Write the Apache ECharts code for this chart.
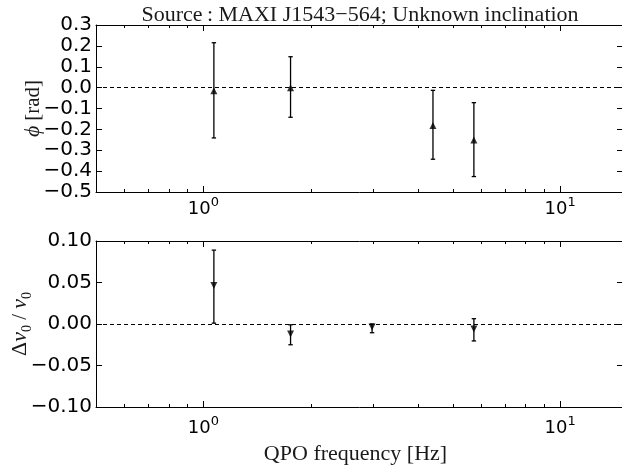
<!DOCTYPE html>
<html>
<head>
<meta charset="utf-8">
<script src="https://cdn.jsdelivr.net/npm/echarts@6/dist/echarts.min.js"></script>
<style>html,body{margin:0;padding:0;background:#fff}#c{width:622px;height:465px}</style>
</head>
<body>
<div id="c"></div>
<script>
// ---- data ----
const titleText = 'Source\u2009: MAXI J1543\u2212564; Unknown inclination';
const xName = 'QPO frequency [Hz]';
// top panel: phase lag phi [rad]
const phiFreq = [1.07, 1.755, 4.40, 5.73];
const phiVal  = [-0.015, 0.0, -0.182, -0.251];
const phiLo   = [-0.241, -0.142, -0.343, -0.426];
const phiHi   = [0.215, 0.148, -0.013, -0.072];
// bottom panel: delta nu0 / nu0
const dnFreq = [1.07, 1.755, 2.97, 5.73];
const dnVal  = [0.0463, -0.012, -0.0036, -0.006];
const dnLo   = [0.001, -0.025, -0.0105, -0.0204];
const dnHi   = [0.089, -0.001, 0.0, 0.0064];
// axis ticks
const xMajorTicks = [1, 10];
const xMinorTicks = [0.6, 0.7, 0.8, 0.9, 2, 3, 4, 5, 6, 7, 8, 9];
const xMin = 0.5, xMax = 15;
const phiMin = -0.5, phiMax = 0.3, phiStep = 0.1;
const dnMin = -0.1, dnMax = 0.1, dnStep = 0.05;

const SANS = 'DejaVu Sans';
const SERIF = 'Liberation Serif';
const black = '#000';
const ink = '#1a1a1a';

function minus(s){ return s.replace('-', '\u2212'); }

function xAxes(grid, labelMargin, withName){
  const base = {type:'log', logBase:10, min:xMin, max:xMax, gridIndex:grid, splitLine:{show:false}};
  return [
    Object.assign({}, base, {
      position:'bottom',
      axisLine:{show:true, onZero:false, lineStyle:{color:black, width:1}},
      axisTick:{show:true, inside:true, length:6, customValues:xMajorTicks, lineStyle:{color:black}},
      axisLabel:{show:true, customValues:xMajorTicks, margin:labelMargin, color:black,
        formatter:function(v){ return '{b|10}{s|' + Math.round(Math.log10(v)) + '}'; },
        rich:{b:{fontFamily:SANS, fontSize:18, color:black, lineHeight:22, verticalAlign:'bottom'},
              s:{fontFamily:SANS, fontSize:13, color:black, lineHeight:13, verticalAlign:'top'}}},
      name: withName ? xName : '', nameLocation:'middle', nameGap:36, nameMoveOverlap:false,
      nameTextStyle:{fontFamily:SERIF, fontSize:22, color:ink, padding:[0,8,0,0]}
    }),
    Object.assign({}, base, {
      position:'bottom',
      axisLine:{show:false, onZero:false},
      axisTick:{show:true, inside:true, length:3, customValues:xMinorTicks, lineStyle:{color:black}},
      axisLabel:{show:false}
    }),
    Object.assign({}, base, {
      position:'top',
      axisLine:{show:true, onZero:false, lineStyle:{color:black, width:1}},
      axisTick:{show:true, inside:true, length:6, customValues:xMajorTicks, lineStyle:{color:black}},
      axisLabel:{show:false}
    }),
    Object.assign({}, base, {
      position:'top',
      axisLine:{show:false, onZero:false},
      axisTick:{show:true, inside:true, length:3, customValues:xMinorTicks, lineStyle:{color:black}},
      axisLabel:{show:false}
    })
  ];
}

function yAxes(grid, min, max, step, digits, name, nameGap){
  return [
    {type:'value', gridIndex:grid, position:'left', min:min, max:max, interval:step,
     splitLine:{show:false},
     axisLine:{show:true, onZero:false, lineStyle:{color:black, width:1}},
     axisTick:{show:true, inside:true, length:6, lineStyle:{color:black}},
     axisLabel:{show:true, margin:4, color:black, fontFamily:SANS, fontSize:20,
       showMinLabel:true, showMaxLabel:true,
       formatter:function(v){ return minus(v.toFixed(digits)); }},
     name:name, nameLocation:'middle', nameRotate:90, nameGap:nameGap, nameMoveOverlap:false,
     nameTextStyle:{fontFamily:SERIF, fontSize:20, color:ink,
       rich:{i:{fontFamily:SERIF, fontStyle:'italic', fontSize:22, color:ink},
             r:{fontFamily:SERIF, fontSize:21, color:ink},
             s:{fontFamily:SERIF, fontSize:14, color:ink, verticalAlign:'bottom', lineHeight:28},
             d:{fontFamily:SERIF, fontSize:22, color:ink}}}
    },
    {type:'value', gridIndex:grid, position:'right', min:min, max:max, interval:step,
     splitLine:{show:false},
     axisLine:{show:true, onZero:false, lineStyle:{color:black, width:1}},
     axisTick:{show:true, inside:true, length:6, lineStyle:{color:black}},
     axisLabel:{show:false}
    }
  ];
}

function errData(f, v, lo, hi){ return f.map((x,i)=>[x, v[i], lo[i], hi[i]]); }
function ptData(f, v){ return f.map((x,i)=>[x, v[i]]); }

function errSeries(xi, yi, data){
  return {
    type:'custom', xAxisIndex:xi, yAxisIndex:yi, data:data, silent:true,
    encode:{x:0, y:[2,3]},
    renderItem:function(params, api){
      const x = api.value(0);
      const top = api.coord([x, api.value(3)]);
      const bot = api.coord([x, api.value(2)]);
      const st = {stroke:black, lineWidth:1.3};
      const c = 2.2;
      return {type:'group', children:[
        {type:'line', shape:{x1:top[0], y1:top[1], x2:bot[0], y2:bot[1]}, style:st},
        {type:'line', shape:{x1:top[0]-c, y1:top[1], x2:top[0]+c, y2:top[1]}, style:st},
        {type:'line', shape:{x1:bot[0]-c, y1:bot[1], x2:bot[0]+c, y2:bot[1]}, style:st}
      ]};
    }
  };
}

function zeroLine(xi, yi){
  return {type:'line', xAxisIndex:xi, yAxisIndex:yi, data:[], silent:true,
    markLine:{silent:true, symbol:['none','none'], label:{show:false},
      lineStyle:{color:black, type:[4,3], width:1}, data:[{yAxis:0}]}};
}

const chart = echarts.init(document.getElementById('c'), null, {renderer:'canvas'});
chart.setOption({
  animation:false,
  backgroundColor:'#fff',
  title:{text:titleText, left:355, textAlign:'center', top:-1,
    textStyle:{fontFamily:SERIF, fontWeight:'normal', fontSize:22, color:ink}},
  grid:[
    {left:96, top:25, width:527, height:167, outerBoundsMode:'none', containLabel:false},
    {left:96, top:241, width:527, height:166, outerBoundsMode:'none', containLabel:false}
  ],
  xAxis:[].concat(xAxes(0, 4, false), xAxes(1, 8, true)),
  yAxis:[].concat(
    yAxes(0, phiMin, phiMax, phiStep, 1, '{i|\u03d5} {r|[rad]}', 52),
    yAxes(1, dnMin, dnMax, dnStep, 2, '{d|\u0394}{i|\u03bd}{s|0}{r| / }{i|\u03bd}{s|0}', 62)
  ),
  series:[
    zeroLine(0, 0),
    errSeries(0, 0, errData(phiFreq, phiVal, phiLo, phiHi)),
    {type:'scatter', xAxisIndex:0, yAxisIndex:0, data:ptData(phiFreq, phiVal),
     symbol:'triangle', symbolSize:7, itemStyle:{color:black}, silent:true},
    zeroLine(4, 2),
    errSeries(4, 2, errData(dnFreq, dnVal, dnLo, dnHi)),
    {type:'scatter', xAxisIndex:4, yAxisIndex:2, data:ptData(dnFreq, dnVal),
     symbol:'triangle', symbolRotate:180, symbolSize:7, itemStyle:{color:black}, silent:true}
  ]
});
</script>
</body>
</html>
